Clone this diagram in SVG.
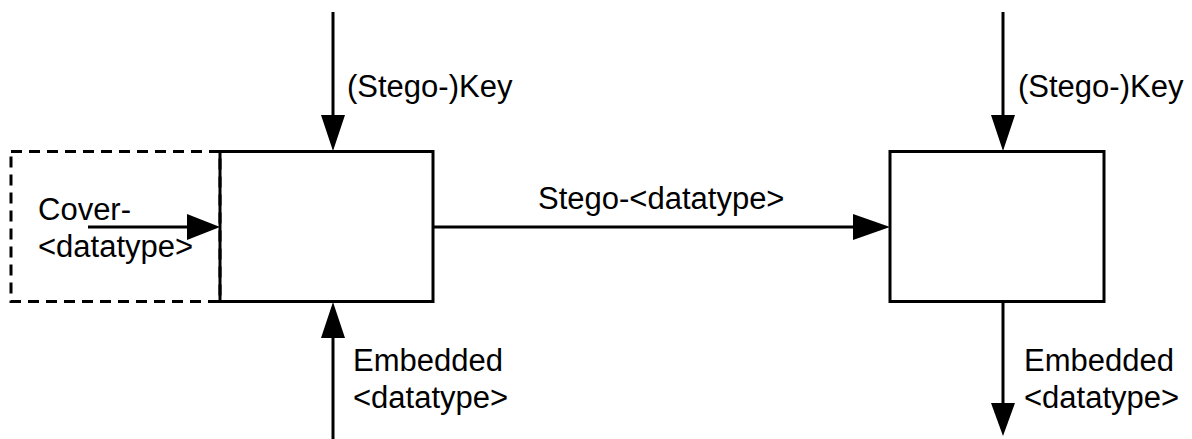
<svg xmlns="http://www.w3.org/2000/svg" width="1192" height="439" viewBox="0 0 1192 439">
<style>
.box{fill:none;stroke:#000;stroke-width:3}
.dash{fill:none;stroke:#000;stroke-width:3;stroke-dasharray:11 7}
.ln{stroke:#000;stroke-width:3;fill:none}
.hd{fill:#000;stroke:none}
text{font-family:"Liberation Sans",Arial,sans-serif;font-size:31px;fill:#000}
</style>
<rect width="1192" height="439" fill="#fff"/>
<g id="cover-frame">
<rect class="dash" x="11" y="151.5" width="209" height="150"/>
<text x="38" y="220">Cover-</text>
<text x="38" y="257">&lt;datatype&gt;</text>
</g>
<g id="embedder">
<rect class="box" x="220" y="151.5" width="213" height="150"/>
</g>
<g id="extractor">
<rect class="box" x="890" y="151.5" width="214" height="150"/>
</g>
<g id="connectors">
<line class="ln" x1="88" y1="227" x2="190" y2="227"/>
<polygon class="hd" points="220,227 187,214 187,240"/>
<line class="ln" x1="333" y1="12" x2="333" y2="118"/>
<polygon class="hd" points="333,151 321,115 345,115"/>
<line class="ln" x1="333" y1="439" x2="333" y2="335"/>
<polygon class="hd" points="333,302 321,338 345,338"/>
<line class="ln" x1="433" y1="227" x2="856" y2="227"/>
<polygon class="hd" points="890,227 853,214 853,240"/>
<line class="ln" x1="1003" y1="12" x2="1003" y2="118"/>
<polygon class="hd" points="1003,151 991,115 1015,115"/>
<line class="ln" x1="1003" y1="302" x2="1003" y2="406"/>
<polygon class="hd" points="1003,436 991,403 1015,403"/>
</g>
<g id="labels">
<text x="347" y="97">(Stego-)Key</text>
<text x="1018" y="97">(Stego-)Key</text>
<text x="353" y="371">Embedded</text>
<text x="353" y="408">&lt;datatype&gt;</text>
<text x="1024" y="371">Embedded</text>
<text x="1024" y="408">&lt;datatype&gt;</text>
<text x="538" y="209">Stego-&lt;datatype&gt;</text>
</g>
</svg>
